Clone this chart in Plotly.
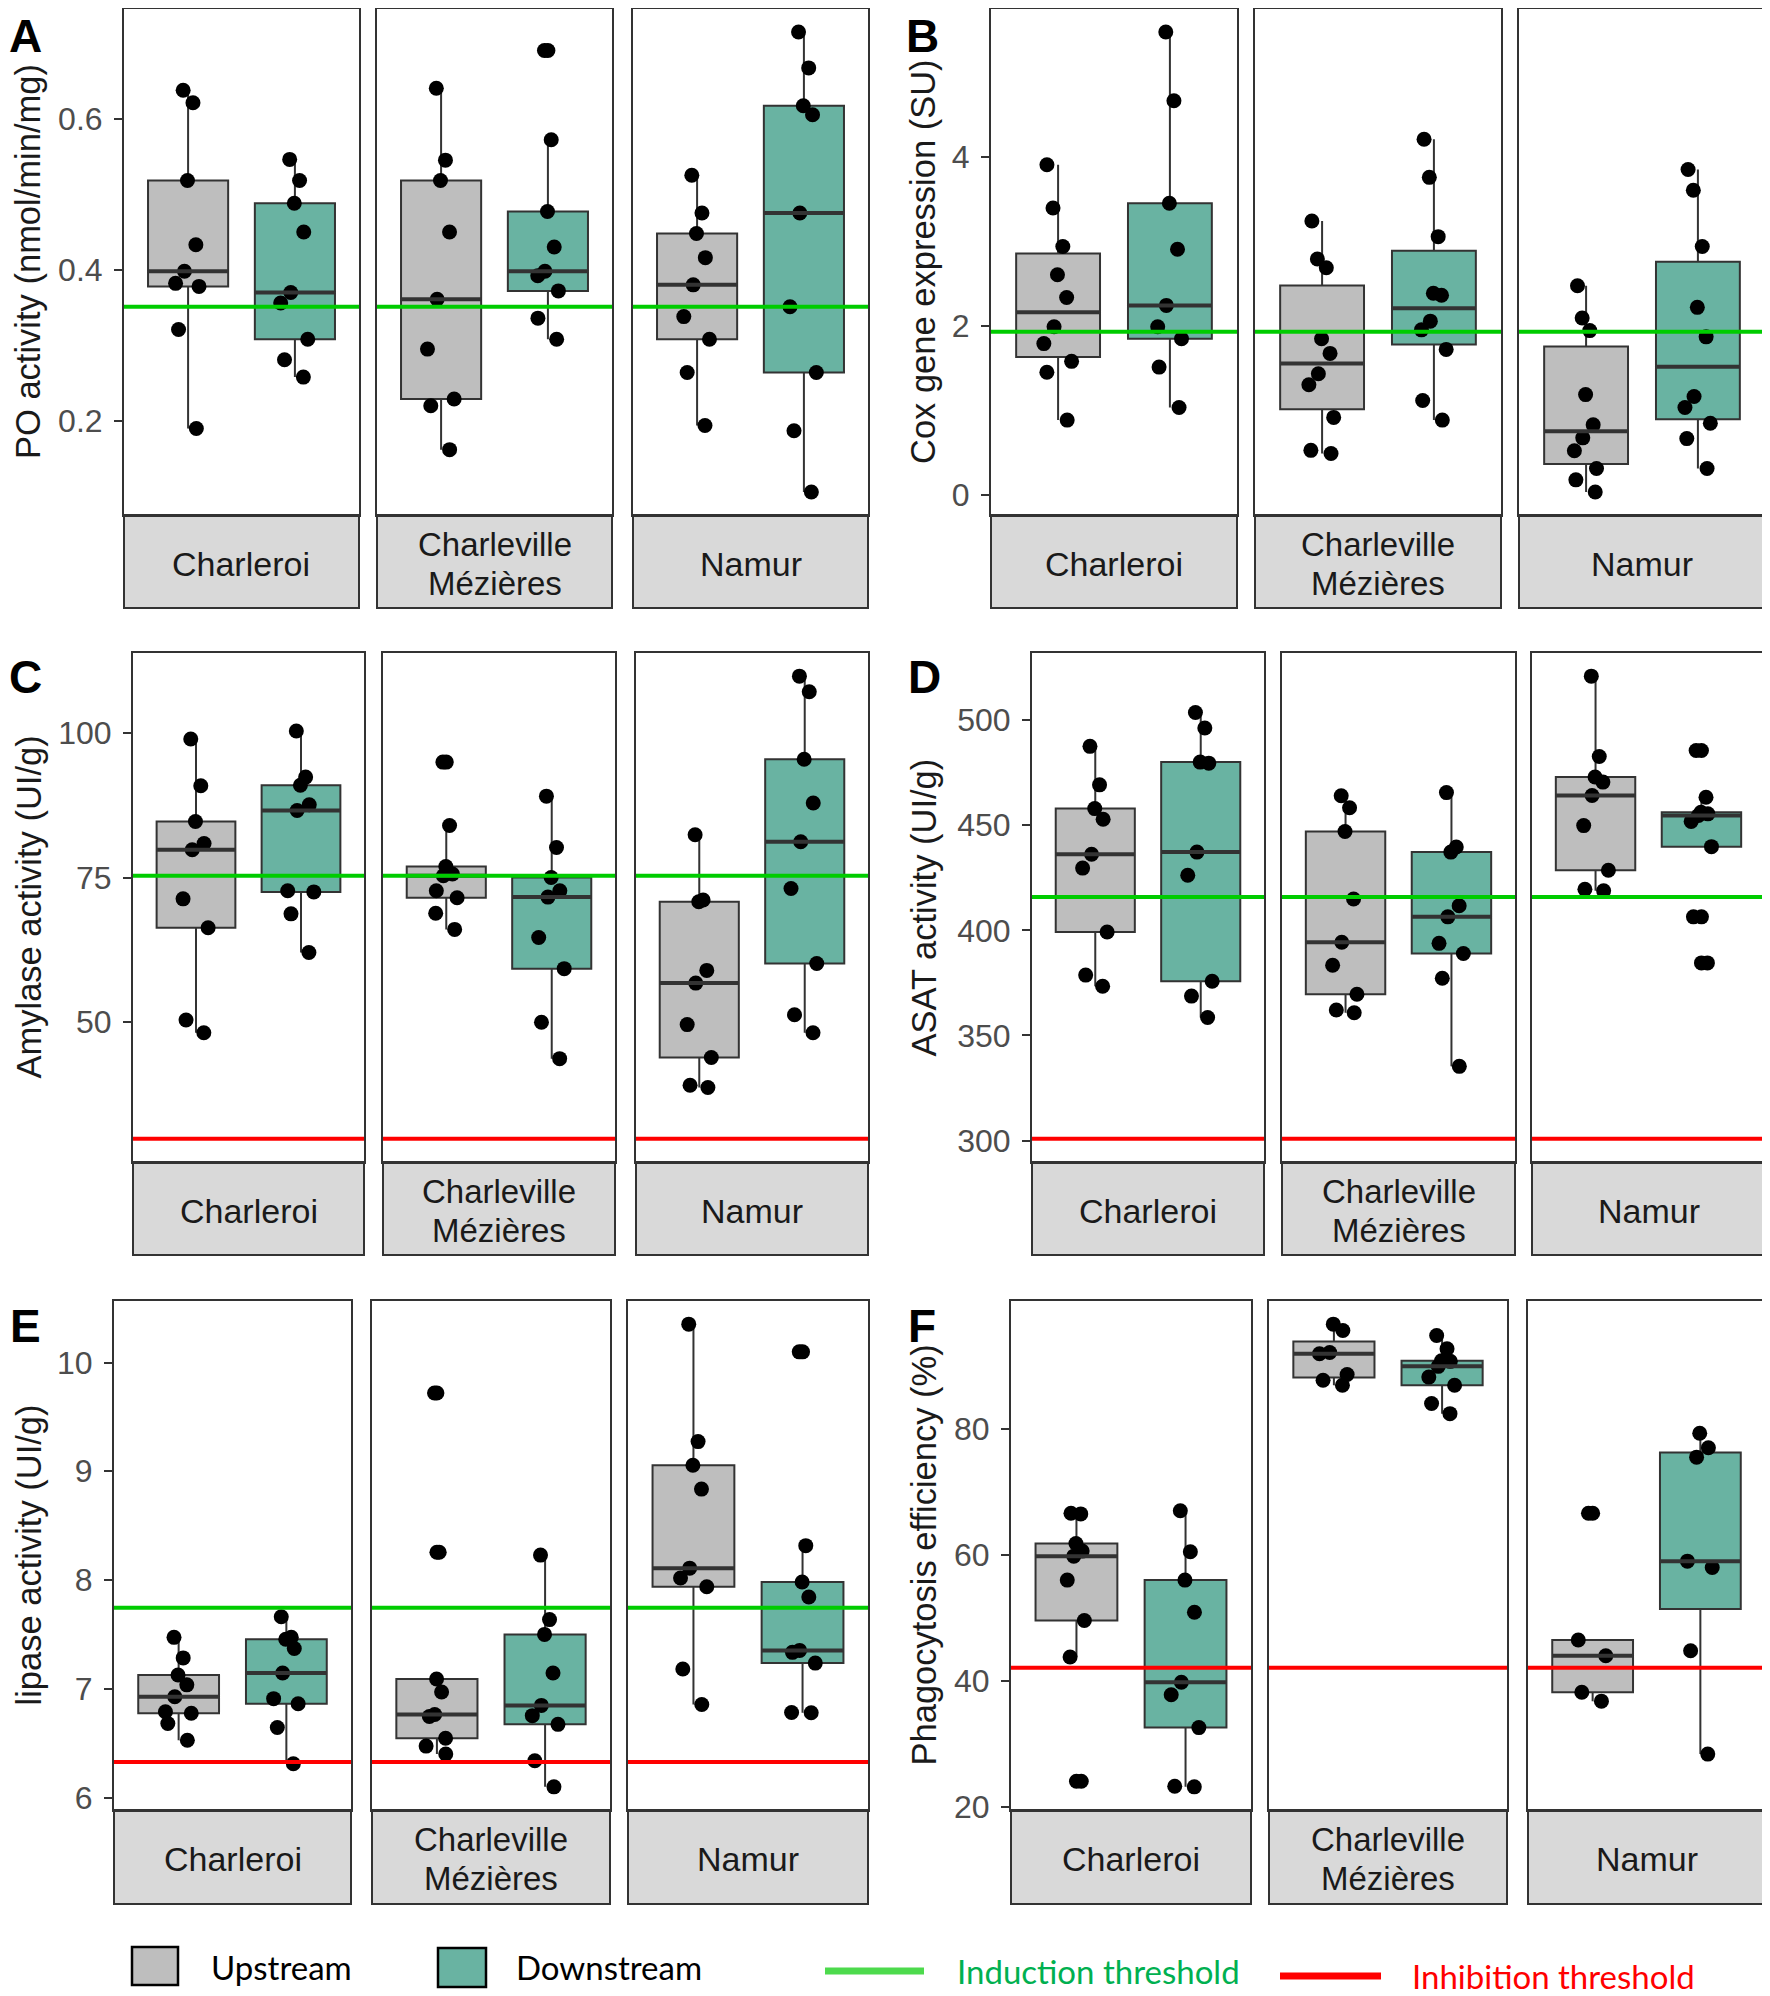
import numpy as np
import plotly.graph_objects as go

# page size and the browser's default body margin
PAGE_W, PAGE_H = 1770, 1996
OFF = 8
W, H = PAGE_W - OFF, PAGE_H - OFF

SITES = ["Charleroi", "Charleville\nMézières", "Namur"]
GROUPS = ["Upstream", "Downstream"]

# ---------------- data ----------------
# A: PO activity (nmol/min/mg)
po_up = [[0.6375, 0.621, 0.518, 0.433, 0.398, 0.382, 0.378, 0.321, 0.190],
         [0.640, 0.545, 0.518, 0.450, 0.361, 0.295, 0.229, 0.220, 0.162],
         [0.525, 0.475, 0.448, 0.416, 0.380, 0.338, 0.308, 0.264, 0.194]]
po_down = [[0.546, 0.518, 0.488, 0.450, 0.370, 0.356, 0.308, 0.281, 0.258],
           [0.690, 0.572, 0.477, 0.430, 0.398, 0.392, 0.372, 0.336, 0.308],
           [0.7145, 0.667, 0.617, 0.605, 0.475, 0.351, 0.264, 0.187, 0.106]]
# B: Cox gene expression (SU)
cox_up = [[3.907, 3.395, 2.94, 2.605, 2.335, 1.99, 1.79, 1.58, 1.45, 0.884],
          [3.242, 2.791, 2.688, 1.847, 1.674, 1.433, 1.302, 0.916, 0.526, 0.488],
          [2.474, 2.093, 1.944, 1.186, 0.828, 0.674, 0.521, 0.312, 0.177, 0.033]]
cox_down = [[5.479, 4.665, 3.451, 2.907, 2.242, 1.99, 1.847, 1.512, 1.033],
            [4.209, 3.758, 3.056, 2.386, 2.363, 2.056, 1.953, 1.721, 1.116, 0.884],
            [3.851, 3.605, 2.94, 2.219, 1.87, 1.163, 1.033, 0.847, 0.665, 0.312]]
# C: Amylase activity (UI/g)
amy_up = [[99.0, 90.9, 84.7, 80.9, 79.8, 71.3, 66.3, 50.3, 48.1],
          [95.0, 84.0, 76.9, 75.6, 75.3, 72.7, 71.5, 68.8, 66.0],
          [82.4, 71.1, 70.8, 58.9, 56.7, 49.5, 43.8, 39.0, 38.6]]
amy_down = [[100.4, 92.4, 91.0, 87.6, 86.6, 72.7, 72.5, 68.7, 62.0],
            [89.1, 80.2, 75.0, 72.7, 71.6, 64.6, 59.2, 49.9, 43.6],
            [109.9, 107.2, 95.5, 87.9, 81.2, 73.1, 60.1, 51.2, 48.1]]
# D: ASAT activity (UI/g)
asat_up = [[487.5, 469.2, 457.9, 452.8, 436.2, 429.6, 399.2, 378.7, 373.4],
           [464.0, 458.3, 447.0, 414.9, 394.3, 383.4, 369.6, 362.1, 360.8],
           [520.9, 482.7, 472.9, 470.5, 464.1, 449.8, 428.6, 419.5, 418.8]]
asat_down = [[503.6, 496.2, 480.0, 479.5, 437.2, 426.2, 375.8, 368.7, 358.5],
             [465.5, 439.6, 437.2, 411.7, 406.4, 393.8, 389.0, 377.2, 335.3],
             [485.5, 463.3, 456.1, 455.4, 454.6, 451.8, 439.8, 406.4, 384.5]]
# E: lipase activity (UI/g)
lip_up = [[7.473, 7.284, 7.127, 7.036, 6.927, 6.789, 6.775, 6.68, 6.527],
          [9.72, 8.255, 7.09, 6.97, 6.764, 6.745, 6.545, 6.473, 6.4],
          [10.353, 9.273, 9.055, 8.836, 8.109, 8.018, 7.938, 7.182, 6.855]]
lip_down = [[7.662, 7.473, 7.455, 7.371, 7.145, 6.909, 6.862, 6.644, 6.31],
            [8.229, 7.636, 7.5, 7.145, 6.847, 6.753, 6.673, 6.338, 6.098],
            [10.098, 8.316, 7.982, 7.844, 7.353, 7.335, 7.236, 6.782, 6.78]]
# F: Phagocytosis efficiency (%)
pha_up = [[66.6, 66.5, 61.8, 60.6, 59.8, 56.0, 49.6, 43.8, 24.1],
          [96.6, 95.6, 92.1, 91.9, 88.6, 87.7, 86.9],
          [66.6, 46.5, 44.0, 38.2, 36.8]]
pha_down = [[67.0, 60.5, 56.0, 50.9, 39.8, 37.8, 32.6, 23.3, 23.2],
            [94.8, 92.7, 90.8, 90.7, 89.9, 88.2, 86.9, 84.0, 82.4],
            [79.3, 77.0, 75.5, 59.0, 58.0, 44.8, 28.4]]

letters = ["A", "B", "C", "D", "E", "F"]
ytitles = ["PO activity (nmol/min/mg)", "Cox gene expression (SU)",
           "Amylase activity (UI/g)", "ASAT activity (UI/g)",
           "lipase activity (UI/g)", "Phagocytosis efficiency (%)"]
induction = [0.351, 1.93, 75.3, 415.9, 7.745, None]
inhibition = [None, None, 29.7, 300.8, 6.327, 42.1]
ytickvals = [[0.2, 0.4, 0.6], [0, 2, 4], [50, 75, 100],
             [300, 350, 400, 450, 500], [6, 7, 8, 9, 10], [20, 40, 60, 80]]
yticktext = [["0.2", "0.4", "0.6"], ["0", "2", "4"], ["50", "75", "100"],
             ["300", "350", "400", "450", "500"], ["6", "7", "8", "9", "10"],
             ["20", "40", "60", "80"]]

panels_up = [po_up, cox_up, amy_up, asat_up, lip_up, pha_up]
panels_down = [po_down, cox_down, amy_down, asat_down, lip_down, pha_down]

# ---------------- layout constants (page pixels) ----------------
FACET_X = [
    [(124, 359), (377, 612), (633, 868)],
    [(991, 1237), (1255, 1501), (1519, 1765)],
    [(133, 364), (383, 615), (636, 868)],
    [(1032, 1264), (1282, 1515), (1532, 1765)],
    [(114, 351), (372, 610), (628, 868)],
    [(1011, 1251), (1269, 1507), (1528, 1765)],
]
ROW_Y = [(9, 515, 608), (653, 1162, 1255), (1301, 1810, 1904)]
TITLE_X = [28, 923]
# (x centre, y, yanchor)
LETTER_POS = [(25, 8, "top"), (922, 8, "top"), (25, 677, "middle"),
              (924, 677, "middle"), (25, 1326, "middle"), (922, 1326, "middle")]

FILL = {"Upstream": "#BEBEBE", "Downstream": "#69B3A2"}
DARK = "#333333"
GREEN = "#00CC00"
RED = "#FF0000"
BOXW = 0.75
MS = 15


def clamp(v):
    return min(1.0, max(0.0, v))


def px_x(v):
    return clamp((v - OFF) / W)


def px_y(v):
    return clamp(1 - (v - OFF) / H)


def box_stats(vals):
    a = np.sort(np.asarray(vals, dtype=float))
    q1, med, q3 = np.percentile(a, [25, 50, 75])
    iqr = q3 - q1
    lo_f, hi_f = q1 - 1.5 * iqr, q3 + 1.5 * iqr
    inside = a[(a >= lo_f) & (a <= hi_f)]
    out = a[(a < lo_f) | (a > hi_f)]
    return q1, med, q3, inside.min(), inside.max(), out


fig = go.Figure()
shapes = []
annotations = []
layout_axes = {}

for p in range(6):
    row = p // 2
    top, strip_top, strip_bot = ROW_Y[row]
    allv = [v for site in panels_up[p] + panels_down[p] for v in site]
    for t in (induction[p], inhibition[p]):
        if t is not None:
            allv.append(t)
    lo, hi = min(allv), max(allv)
    pad = 0.05 * (hi - lo)
    yr = [lo - pad, hi + pad]

    for f in range(3):
        idx = p * 3 + f + 1
        xa = "x" if idx == 1 else f"x{idx}"
        ya = "y" if idx == 1 else f"y{idx}"
        x0, x1 = FACET_X[p][f]
        xdom = [px_x(x0), px_x(x1)]
        ydom = [px_y(strip_top), px_y(top)]
        layout_axes["xaxis" if idx == 1 else f"xaxis{idx}"] = dict(
            domain=xdom, range=[0.4, 2.6], anchor=ya, showticklabels=False,
            ticks="", showgrid=False, zeroline=False, showline=True,
            mirror=True, linecolor=DARK, linewidth=2, fixedrange=True,
            automargin=False)
        yax = dict(domain=ydom, range=yr, anchor=xa, showgrid=False,
                   zeroline=False, showline=True, mirror=True,
                   linecolor=DARK, linewidth=2, fixedrange=True,
                   automargin=False)
        if f == 0:
            yax.update(tickmode="array", tickvals=ytickvals[p],
                       ticktext=yticktext[p], ticks="outside", ticklen=8,
                       tickwidth=2, tickcolor=DARK,
                       tickfont=dict(family="Liberation Sans", size=32,
                                     color="#4D4D4D"),
                       ticklabelstandoff=5)
        else:
            yax.update(showticklabels=False, ticks="")
        layout_axes["yaxis" if idx == 1 else f"yaxis{idx}"] = yax

        for gi, (grp, data) in enumerate((("Upstream", panels_up[p][f]),
                                          ("Downstream", panels_down[p][f]))):
            pos = gi + 1
            q1, med, q3, lf, uf, out = box_stats(data)
            fig.add_trace(go.Box(
                x=[pos], q1=[q1], median=[med], q3=[q3],
                lowerfence=[lf], upperfence=[uf], width=BOXW,
                fillcolor=FILL[grp], line=dict(color=DARK, width=2),
                whiskerwidth=0, boxpoints=False, showlegend=False,
                xaxis=xa, yaxis=ya, hoverinfo="skip"))
            fig.add_trace(go.Scatter(
                x=[pos - BOXW / 2, pos + BOXW / 2], y=[med, med],
                mode="lines", line=dict(color=DARK, width=4),
                showlegend=False, xaxis=xa, yaxis=ya, hoverinfo="skip"))
            if len(out):
                fig.add_trace(go.Scatter(
                    x=[pos] * len(out), y=list(out), mode="markers",
                    marker=dict(color="black", size=MS),
                    showlegend=False, xaxis=xa, yaxis=ya, hoverinfo="skip"))
            fig.add_trace(go.Box(
                x=[pos] * len(data), y=data, width=BOXW,
                boxpoints="all", jitter=0.42, pointpos=0,
                fillcolor="rgba(0,0,0,0)",
                line=dict(color="rgba(0,0,0,0)", width=0),
                whiskerwidth=0,
                marker=dict(color="black", size=MS),
                showlegend=False, xaxis=xa, yaxis=ya, hoverinfo="skip"))

        # threshold lines
        for t, col in ((induction[p], GREEN), (inhibition[p], RED)):
            if t is not None:
                shapes.append(dict(type="line", xref=f"{xa} domain", yref=ya,
                                   x0=0, x1=1, y0=t, y1=t, layer="above",
                                   line=dict(color=col, width=4)))
        # strip
        shapes.append(dict(type="rect", xref="paper", yref="paper",
                           x0=px_x(x0), x1=px_x(x1), y0=px_y(strip_bot),
                           y1=px_y(strip_top), fillcolor="#D9D9D9",
                           line=dict(color=DARK, width=2), layer="below"))
        cx = (x0 + x1) / 2
        cy = (strip_top + strip_bot) / 2 + 2
        lines = SITES[f].split("\n")
        if len(lines) == 1:
            offs, fs = [0], 34
        else:
            offs, fs = [-19.5, 19.5], 33
        for ln, o in zip(lines, offs):
            annotations.append(dict(
                x=px_x(cx), y=px_y(cy + o), xref="paper", yref="paper",
                text=ln, showarrow=False, xanchor="center", yanchor="middle",
                font=dict(family="Liberation Sans", size=fs, color="#1A1A1A")))

    # axis title
    annotations.append(dict(
        x=px_x(TITLE_X[p % 2]), y=px_y((top + strip_top) / 2),
        xref="paper", yref="paper", text=ytitles[p], textangle=-90,
        showarrow=False, xanchor="center", yanchor="middle",
        font=dict(family="Liberation Sans", size=34.5, color="#1A1A1A")))
    # panel letter
    lx, ly, yanc = LETTER_POS[p]
    annotations.append(dict(
        x=px_x(lx), y=px_y(ly), xref="paper", yref="paper",
        text=f"<b>{letters[p]}</b>", showarrow=False,
        xanchor="center", yanchor=yanc,
        font=dict(family="Liberation Sans", size=46, color="black")))

# ---------------- legend (drawn) ----------------
LEG_FONT = "Lato"
for (bx0, bx1, by0, by1), grp, tx in (((132, 178, 1947, 1985), "Upstream", 209),
                                      ((438, 486, 1948, 1987), "Downstream", 514)):
    shapes.append(dict(type="rect", xref="paper", yref="paper",
                       x0=px_x(bx0), x1=px_x(bx1), y0=px_y(by1), y1=px_y(by0),
                       fillcolor=FILL[grp], line=dict(color="black", width=2.5)))
    annotations.append(dict(x=px_x(tx), y=px_y(1967), xref="paper", yref="paper",
                            text=grp, showarrow=False, xanchor="left",
                            yanchor="middle",
                            font=dict(family=LEG_FONT, size=33, color="black")))

for (lx0, lx1, ly), col, txt, tcol, tx in (
        ((825, 924, 1971), "#4DDA4D", "Induction threshold", "#00B050", 955),
        ((1280, 1381, 1976), RED, "Inhibition threshold", RED, 1410)):
    shapes.append(dict(type="line", xref="paper", yref="paper",
                       x0=px_x(lx0), x1=px_x(lx1), y0=px_y(ly), y1=px_y(ly),
                       line=dict(color=col, width=7)))
    annotations.append(dict(x=px_x(tx), y=px_y(ly), xref="paper", yref="paper",
                            text=txt, showarrow=False, xanchor="left",
                            yanchor="middle",
                            font=dict(family=LEG_FONT, size=33, color=tcol)))

fig.update_layout(
    width=W, height=H, margin=dict(l=0, r=0, t=0, b=0, autoexpand=False),
    paper_bgcolor="white", plot_bgcolor="white",
    showlegend=False, boxmode="overlay",
    shapes=shapes, annotations=annotations, **layout_axes)

fig.write_html("out.html")
